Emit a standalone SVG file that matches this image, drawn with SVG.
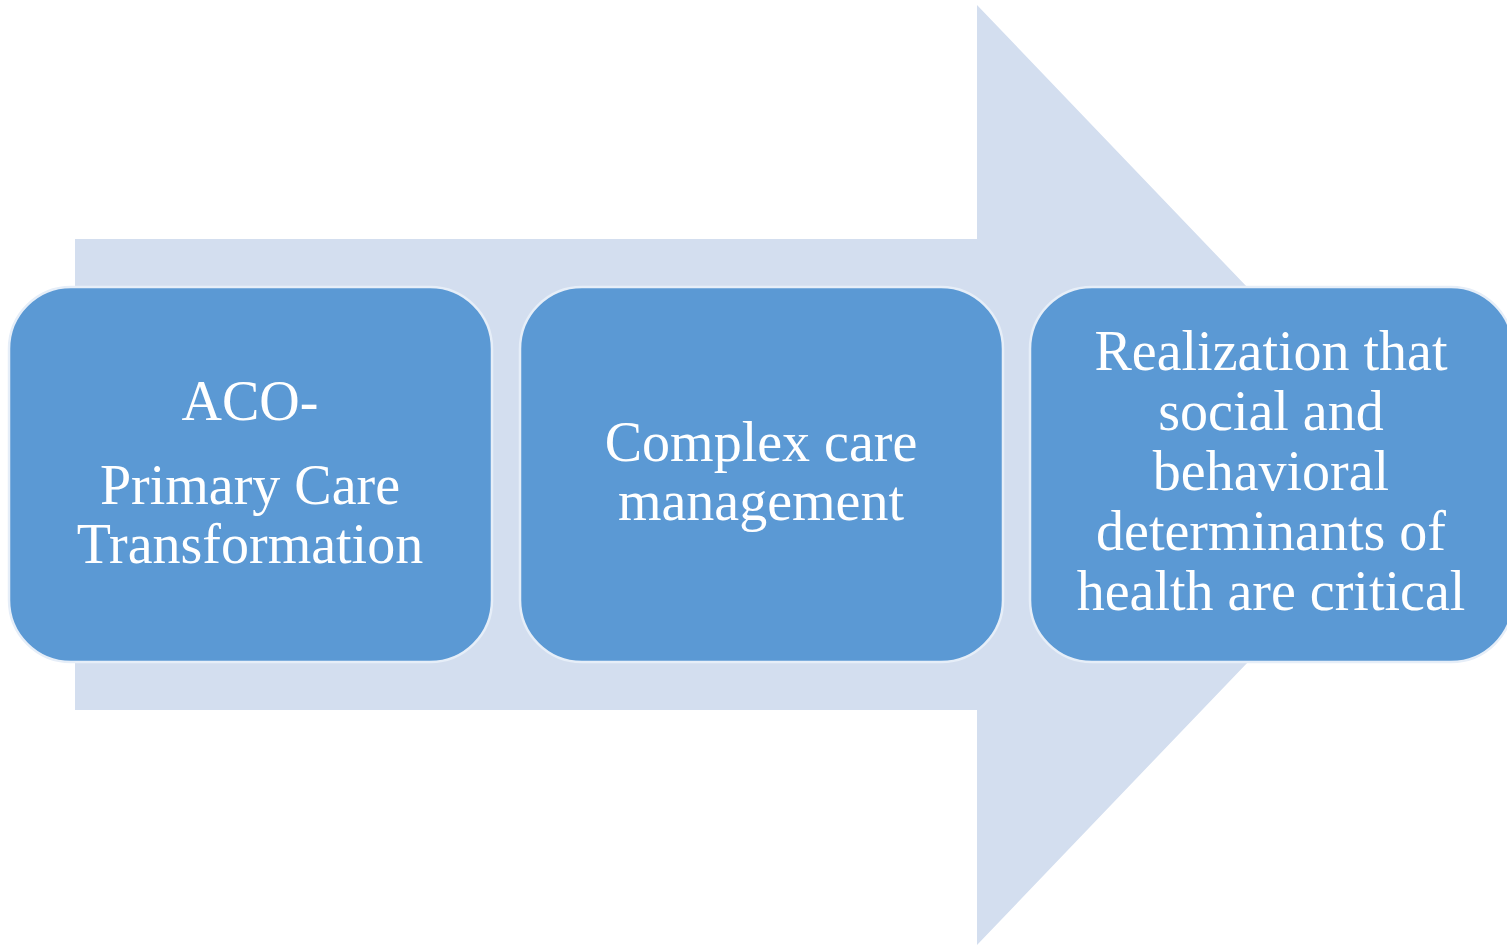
<svg xmlns="http://www.w3.org/2000/svg" width="1507" height="945" viewBox="0 0 1507 945">
<style>
.box{fill:#5B99D4;stroke:#E6EEF8;stroke-width:2.5}
.t{font-family:"Liberation Serif",serif;font-size:56px;fill:#FFFFFF;text-anchor:middle}
</style>
<rect width="1507" height="945" fill="#FFFFFF"/>
<g id="arrow">
<path d="M75,239 L977,239 L977,5 L1427,475 L977,945 L977,710 L75,710 Z" fill="#D3DEEF"/>
</g>
<g id="node1">
<rect class="box" x="9" y="287" width="483" height="375" rx="62" ry="62"/>
<text class="t" x="250" y="420">ACO-</text>
<text class="t" x="250" y="504">Primary Care</text>
<text class="t" x="250" y="563">Transformation</text>
</g>
<g id="node2">
<rect class="box" x="520" y="287" width="483" height="375" rx="62" ry="62"/>
<text class="t" x="761" y="461">Complex care</text>
<text class="t" x="761" y="520">management</text>
</g>
<g id="node3">
<rect class="box" x="1030" y="287" width="483" height="375" rx="62" ry="62"/>
<text class="t" x="1271" y="370">Realization that</text>
<text class="t" x="1271" y="430">social and</text>
<text class="t" x="1271" y="490">behavioral</text>
<text class="t" x="1271" y="550">determinants of</text>
<text class="t" x="1271" y="610">health are critical</text>
</g>
<g id="connectors"></g>
</svg>
